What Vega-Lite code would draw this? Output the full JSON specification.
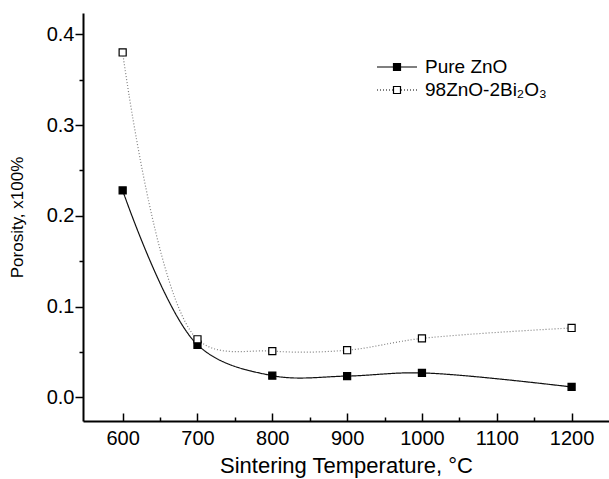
{
  "$schema": "https://vega.github.io/schema/vega-lite/v6.json",
  "width": 526,
  "height": 408,
  "autosize": {"type": "none"},
  "padding": {"left": 83, "top": 13, "right": 0, "bottom": 58},
  "background": "white",
  "config": {
    "view": {"stroke": null},
    "font": "Liberation Sans",
    "axis": {
      "grid": false,
      "domainColor": "black",
      "domainWidth": 2,
      "tickColor": "black",
      "tickWidth": 1.5,
      "labelColor": "black",
      "labelFont": "Liberation Sans",
      "labelFontSize": 20,
      "titleFont": "Liberation Sans",
      "titleFontWeight": "normal",
      "titleColor": "black"
    }
  },
  "data": {
    "values": [
      {"T": 600, "P": 0.228, "series": "Pure ZnO"},
      {"T": 700, "P": 0.058, "series": "Pure ZnO"},
      {"T": 800, "P": 0.024, "series": "Pure ZnO"},
      {"T": 900, "P": 0.0235, "series": "Pure ZnO"},
      {"T": 1000, "P": 0.027, "series": "Pure ZnO"},
      {"T": 1200, "P": 0.0115, "series": "Pure ZnO"},
      {"T": 600, "P": 0.380, "series": "98ZnO-2Bi₂O₃"},
      {"T": 700, "P": 0.064, "series": "98ZnO-2Bi₂O₃"},
      {"T": 800, "P": 0.051, "series": "98ZnO-2Bi₂O₃"},
      {"T": 900, "P": 0.052, "series": "98ZnO-2Bi₂O₃"},
      {"T": 1000, "P": 0.065, "series": "98ZnO-2Bi₂O₃"},
      {"T": 1200, "P": 0.0765, "series": "98ZnO-2Bi₂O₃"}
    ]
  },
  "encoding": {
    "x": {
      "field": "T",
      "type": "quantitative",
      "scale": {"domain": [547, 1250], "nice": false, "zero": false},
      "axis": {
        "title": "Sintering Temperature, °C",
        "titleFontSize": 22,
        "titlePadding": 7,
        "values": [600, 650, 700, 750, 800, 850, 900, 950, 1000, 1050, 1100, 1150, 1200],
        "format": "d",
        "labelExpr": "datum.value % 100 === 0 ? datum.label : ''",
        "tickSize": {"condition": {"test": "datum.value % 100 === 0", "value": -8}, "value": -4},
        "labelPadding": 15
      }
    },
    "y": {
      "field": "P",
      "type": "quantitative",
      "scale": {"domain": [-0.026, 0.4235], "nice": false, "zero": false},
      "axis": {
        "title": "Porosity, x100%",
        "titleFontSize": 17,
        "titlePadding": 20,
        "values": [0, 0.05, 0.1, 0.15, 0.2, 0.25, 0.3, 0.35, 0.4],
        "format": ".1f",
        "labelExpr": "round(datum.value * 100) % 10 === 0 ? datum.label : ''",
        "tickSize": {"condition": {"test": "round(datum.value * 100) % 10 === 0", "value": 8}, "value": 4},
        "labelPadding": 1
      }
    }
  },
  "layer": [
    {
      "mark": {"type": "line", "interpolate": "catmull-rom", "strokeWidth": 1.2},
      "encoding": {
        "color": {
          "field": "series",
          "type": "nominal",
          "scale": {"range": ["#808080", "#111111"]},
          "legend": null
        },
        "strokeDash": {
          "field": "series",
          "type": "nominal",
          "scale": {"range": [[1, 2], [1, 0]]},
          "legend": null
        }
      }
    },
    {
      "mark": {"type": "point", "shape": "square", "filled": true, "size": 50, "stroke": "black", "strokeWidth": 1.2, "opacity": 1},
      "encoding": {
        "fill": {
          "field": "series",
          "type": "nominal",
          "scale": {"domain": ["Pure ZnO", "98ZnO-2Bi₂O₃"], "range": ["black", "white"]}
        }
      }
    },
    {
      "transform": [{"filter": "datum.T < 0"}],
      "mark": {"type": "point"},
      "encoding": {
        "shape": {
          "field": "series",
          "type": "nominal",
          "scale": {
            "domain": ["Pure ZnO", "98ZnO-2Bi₂O₃"],
            "range": [
              "M-2,0H-0.35M0.35,0H2M-0.35,-0.35H0.35V0.35H-0.35Z",
              "M-2,0H-1.9M-1.7,0H-1.6M-1.4,0H-1.3M-1.1,0H-1M-0.8,0H-0.7M-0.5,0H-0.4M0.4,0H0.5M0.7,0H0.8M1,0H1.1M1.3,0H1.4M1.6,0H1.7M1.9,0H2M-0.35,-0.35H0.35V0.35H-0.35Z"
            ]
          },
          "legend": {
            "title": null,
            "orient": "none",
            "legendX": 303,
            "legendY": 43,
            "symbolSize": 400,
            "symbolStrokeWidth": 1.2,
            "symbolStrokeColor": "black",
            "symbolOpacity": 1,
            "labelFont": "Liberation Sans",
            "labelFontSize": 19,
            "labelColor": "black",
            "labelOffset": 17,
            "rowPadding": 2
          }
        }
      }
    }
  ]
}
